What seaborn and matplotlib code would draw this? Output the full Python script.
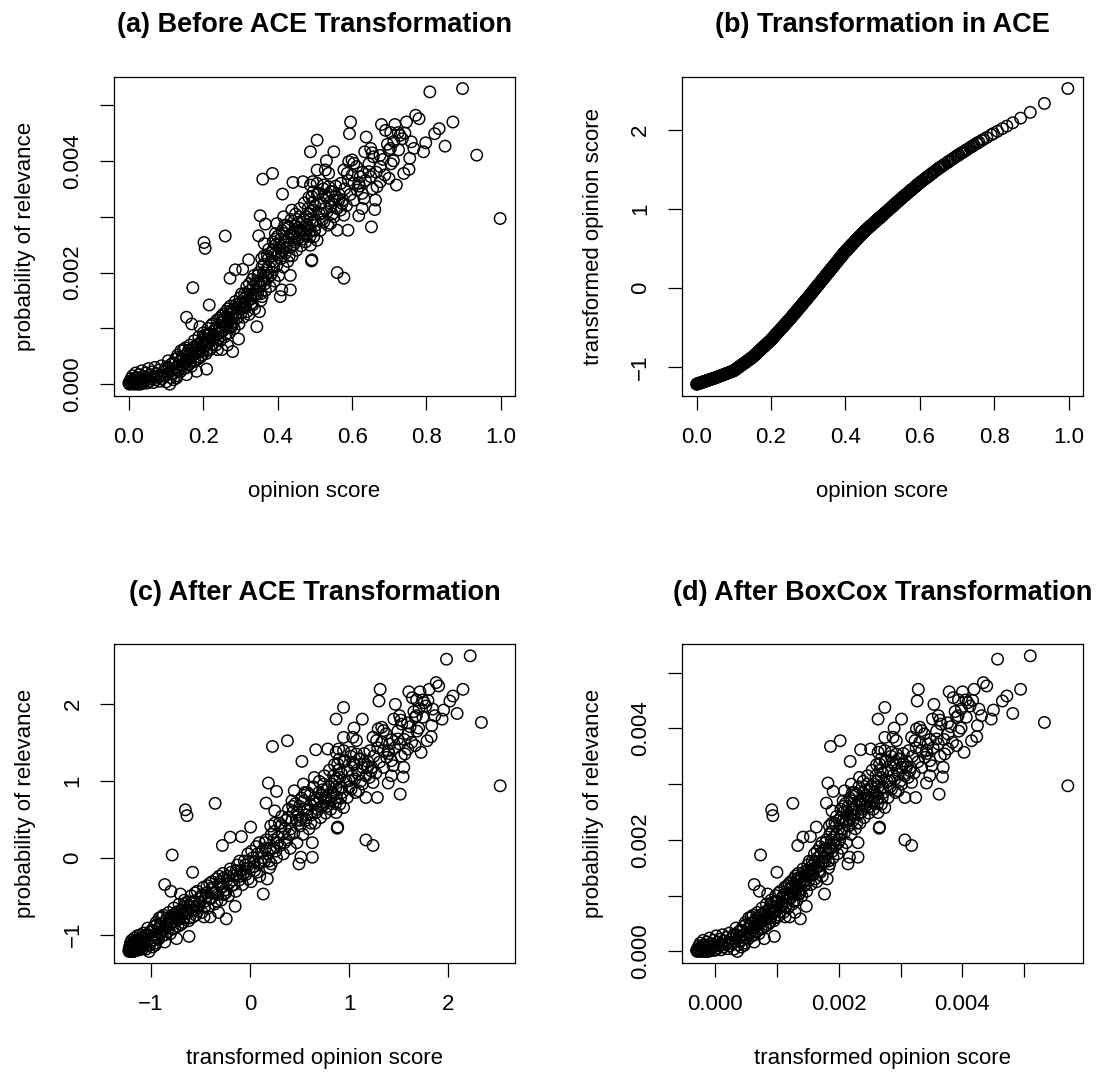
import matplotlib
matplotlib.use("Agg")
import matplotlib.pyplot as plt
import seaborn as sns
import pandas as pd

# ---------------- data ----------------
opinion_score = [
    0.000,0.003,0.006,0.008,0.010,0.012,0.015,0.018,0.020,0.022,0.025,0.028,0.030,0.032,0.035,0.038,0.040,0.043,0.046,0.048,
    0.050,0.053,0.056,0.058,0.060,0.063,0.066,0.068,0.070,0.073,0.076,0.078,0.080,0.083,0.086,0.088,0.090,0.093,0.096,0.098,
    0.100,0.104,0.107,0.110,0.112,0.115,0.118,0.120,0.002,0.005,0.009,0.014,0.017,0.024,0.027,0.036,0.044,0.052,
    0.122,0.125,0.128,0.131,0.134,0.137,0.140,0.143,0.146,0.149,0.152,0.155,0.158,0.161,0.164,0.167,0.170,0.173,0.176,0.179,
    0.182,0.185,0.188,0.191,0.194,0.197,0.200,0.203,0.206,0.209,0.210,0.213,0.216,0.219,0.222,0.225,0.228,0.231,0.234,0.237,
    0.240,0.243,0.246,0.249,0.252,0.255,0.258,0.261,0.264,0.267,0.270,0.273,0.276,0.279,0.280,0.283,0.286,0.289,0.292,0.295,
    0.296,0.299,0.302,0.305,0.155,0.169,0.172,0.191,0.216,0.202,0.205,0.259,0.272,0.286,0.306,
    0.308,0.311,0.314,0.317,0.320,0.323,0.326,0.329,0.332,0.335,0.338,0.341,0.344,0.346,0.349,0.351,0.352,0.355,0.358,0.358,
    0.361,0.364,0.367,0.370,0.373,0.376,0.379,0.382,0.385,0.388,0.391,0.394,0.397,0.400,0.403,0.406,0.409,0.412,0.415,0.418,
    0.421,0.424,0.427,0.430,0.433,0.436,0.439,0.442,0.445,0.448,0.451,0.454,0.457,0.460,0.463,0.466,0.469,0.472,0.475,0.478,
    0.481,0.484,0.487,0.490,0.493,0.496,
    0.407,0.411,0.434,0.434,0.491,0.322,0.349,0.364,0.394,0.398,0.416,0.438,0.461,0.353,0.367,0.360,0.386,0.413,0.441,0.468,
    0.494,0.488,0.506,0.506,
    0.500,0.503,0.507,0.512,0.516,0.520,0.523,0.527,0.531,0.535,0.539,0.543,0.547,0.552,0.556,0.560,0.565,0.570,0.575,0.580,
    0.585,0.590,0.595,0.600,0.605,0.612,0.620,0.628,0.636,0.645,0.655,0.665,0.675,0.688,0.695,0.705,0.712,0.725,0.742,0.755,
    0.897,0.809,0.596,0.593,0.771,0.780,0.746,0.679,0.690,0.704,0.715,0.729,0.735,0.724,0.638,0.759,0.766,0.792,0.798,0.822,
    0.834,0.871,0.850,0.935,0.998,0.634,0.650,0.657,0.654,0.699,0.703,0.711,0.676,0.683,0.551,0.531,0.591,0.600,0.605,0.578,
    0.587,0.528,0.537,0.739,0.753,0.719,0.699,0.676,0.667,0.645,0.650,0.622,0.618,0.605,0.614,0.627,0.632,0.663,0.661,0.652,
    0.627,0.618,0.560,0.589,0.560,0.578,0.492,0.578,0.569,0.506,0.515,0.551,0.488,0.506,0.524,0.492,0.510,0.528,0.537,0.546,
    0.555,0.564,0.573,0.542,0.497,0.519,0.533,0.501,0.524,0.542,0.488,0.497,0.488,
    0.101,0.106,0.113,0.117,0.124,0.129,0.133,0.138,0.142,0.147,0.151,0.156,0.160,0.165,0.168,0.174,0.178,0.183,0.187,0.192,
    0.196,0.199,0.204,0.208,0.212,0.217,0.221,0.226,0.230,0.235,0.239,0.244,0.248,0.253,0.257,0.262,0.266,0.271,0.275,0.278,
    0.284,0.288,0.293,0.298,0.303,0.309,0.313,0.318,0.324,0.328,0.333,0.337,0.343,0.348,0.354,0.357,0.362,0.366,0.372,0.377,
    0.381,0.387,0.392,0.396,0.402,0.408,0.413,0.419,0.425,0.431,0.437,0.443,0.447,0.453,0.458,0.464,0.470,0.476,0.482,0.488,
    0.494,0.499,0.128,0.155,0.182,0.250,0.265,
    0.145,0.159,0.171,0.181,0.189,0.198,0.207,0.214,0.223,0.232,0.238,0.245,0.254,0.260,0.268,0.274,0.282,0.291,0.297,0.304,
    0.312,0.319,0.327,0.334,0.340,0.347,0.356,0.363,0.369,0.375,0.383,0.389,0.395,0.404,0.410,0.417,0.423,0.429,0.440,0.449,
    0.456,0.467,0.479,0.485,
]

prob_relevance = [
    0.02e-3,0.05e-3,0.10e-3,0.01e-3,0.15e-3,0.04e-3,0.08e-3,0.20e-3,0.02e-3,0.12e-3,0.06e-3,0.17e-3,0.00e-3,0.10e-3,0.24e-3,0.04e-3,0.14e-3,0.08e-3,0.20e-3,0.02e-3,
    0.12e-3,0.28e-3,0.06e-3,0.17e-3,0.10e-3,0.22e-3,0.03e-3,0.14e-3,0.30e-3,0.08e-3,0.19e-3,0.12e-3,0.25e-3,0.05e-3,0.16e-3,0.33e-3,0.10e-3,0.22e-3,0.14e-3,0.28e-3,
    0.04e-3,0.18e-3,0.30e-3,0.00e-3,0.12e-3,0.24e-3,0.38e-3,0.08e-3,0.00e-3,0.03e-3,0.06e-3,0.00e-3,0.11e-3,0.00e-3,0.09e-3,0.01e-3,0.11e-3,0.03e-3,
    0.20e-3,0.45e-3,0.30e-3,0.52e-3,0.25e-3,0.40e-3,0.60e-3,0.33e-3,0.50e-3,0.28e-3,0.65e-3,0.42e-3,0.55e-3,0.35e-3,0.70e-3,0.48e-3,0.62e-3,0.40e-3,0.78e-3,0.55e-3,
    0.70e-3,0.45e-3,0.85e-3,0.62e-3,0.75e-3,0.52e-3,0.92e-3,0.68e-3,0.82e-3,0.27e-3,0.60e-3,1.00e-3,0.75e-3,0.90e-3,0.65e-3,1.08e-3,0.82e-3,0.98e-3,0.70e-3,1.15e-3,
    0.90e-3,1.05e-3,0.78e-3,1.22e-3,0.95e-3,1.12e-3,0.85e-3,1.30e-3,1.02e-3,1.20e-3,0.92e-3,1.40e-3,1.10e-3,0.585e-3,1.28e-3,1.00e-3,1.48e-3,1.18e-3,1.36e-3,0.81e-3,
    1.08e-3,1.55e-3,1.28e-3,1.45e-3,1.20e-3,1.08e-3,1.73e-3,1.03e-3,1.42e-3,2.54e-3,2.435e-3,2.656e-3,1.90e-3,2.05e-3,2.06e-3,
    1.20e-3,1.62e-3,1.38e-3,1.75e-3,1.50e-3,1.25e-3,1.68e-3,1.45e-3,1.88e-3,1.58e-3,1.35e-3,1.80e-3,1.03e-3,1.62e-3,2.00e-3,1.30e-3,1.75e-3,1.50e-3,2.10e-3,1.57e-3,
    1.85e-3,2.30e-3,1.68e-3,2.05e-3,1.90e-3,2.42e-3,1.75e-3,2.20e-3,2.00e-3,2.55e-3,1.85e-3,2.35e-3,2.12e-3,2.65e-3,1.95e-3,2.45e-3,2.25e-3,2.75e-3,2.10e-3,2.55e-3,
    2.35e-3,2.85e-3,2.20e-3,2.62e-3,2.45e-3,2.95e-3,2.30e-3,2.72e-3,2.55e-3,3.05e-3,2.40e-3,2.80e-3,2.62e-3,3.15e-3,2.48e-3,2.90e-3,2.70e-3,3.25e-3,2.55e-3,3.00e-3,
    2.80e-3,3.35e-3,2.65e-3,3.10e-3,2.90e-3,3.45e-3,
    1.57e-3,1.69e-3,1.95e-3,1.69e-3,2.21e-3,2.23e-3,2.66e-3,2.52e-3,2.70e-3,2.88e-3,3.00e-3,3.12e-3,2.76e-3,3.02e-3,2.87e-3,3.676e-3,3.778e-3,3.408e-3,3.617e-3,3.63e-3,
    3.63e-3,4.166e-3,4.375e-3,3.838e-3,
    3.20e-3,2.85e-3,3.40e-3,3.05e-3,3.25e-3,2.95e-3,3.50e-3,3.15e-3,3.35e-3,2.85e-3,3.25e-3,3.45e-3,3.05e-3,3.30e-3,3.55e-3,3.15e-3,3.40e-3,3.60e-3,3.30e-3,3.50e-3,
    3.20e-3,3.65e-3,3.40e-3,3.75e-3,3.30e-3,3.90e-3,3.55e-3,3.80e-3,3.65e-3,3.95e-3,3.50e-3,3.80e-3,4.10e-3,3.75e-3,4.30e-3,3.95e-3,4.35e-3,4.20e-3,4.50e-3,4.05e-3,
    5.30e-3,5.24e-3,4.70e-3,4.49e-3,4.82e-3,4.76e-3,4.70e-3,4.655e-3,4.55e-3,4.51e-3,4.655e-3,4.46e-3,4.40e-3,4.51e-3,4.43e-3,4.345e-3,4.226e-3,4.166e-3,4.327e-3,4.49e-3,
    4.58e-3,4.70e-3,4.267e-3,4.106e-3,2.97e-3,4.166e-3,4.226e-3,4.076e-3,4.148e-3,4.196e-3,4.226e-3,4.005e-3,3.897e-3,4.029e-3,4.166e-3,4.005e-3,3.99e-3,4.02e-3,3.96e-3,3.84e-3,
    3.78e-3,3.84e-3,3.78e-3,3.778e-3,3.85e-3,3.57e-3,3.69e-3,3.63e-3,3.54e-3,3.81e-3,3.72e-3,3.72e-3,3.60e-3,3.60e-3,3.48e-3,3.42e-3,3.33e-3,3.30e-3,3.13e-3,2.82e-3,
    3.15e-3,3.02e-3,2.76e-3,2.76e-3,2.00e-3,1.90e-3,2.23e-3,3.03e-3,3.12e-3,2.58e-3,2.76e-3,3.00e-3,3.57e-3,3.60e-3,3.57e-3,3.36e-3,3.42e-3,3.39e-3,3.54e-3,3.45e-3,
    3.36e-3,3.30e-3,3.24e-3,3.18e-3,3.12e-3,3.06e-3,3.09e-3,2.94e-3,2.91e-3,2.88e-3,2.76e-3,2.64e-3,2.49e-3,
    0.30e-3,0.42e-3,0.35e-3,0.20e-3,0.38e-3,0.15e-3,0.48e-3,0.22e-3,0.45e-3,0.62e-3,0.38e-3,0.30e-3,0.60e-3,0.56e-3,0.32e-3,0.66e-3,0.42e-3,0.58e-3,0.72e-3,0.48e-3,
    0.68e-3,0.60e-3,0.88e-3,0.55e-3,0.80e-3,0.62e-3,1.05e-3,0.72e-3,0.88e-3,1.02e-3,0.80e-3,1.18e-3,0.95e-3,1.25e-3,1.05e-3,0.90e-3,1.35e-3,1.15e-3,1.32e-3,1.05e-3,
    1.22e-3,1.42e-3,1.20e-3,1.38e-3,1.62e-3,1.38e-3,1.55e-3,1.30e-3,1.80e-3,1.60e-3,1.42e-3,1.95e-3,1.68e-3,1.85e-3,1.62e-3,2.25e-3,2.00e-3,1.80e-3,2.30e-3,2.10e-3,
    1.95e-3,2.40e-3,2.20e-3,2.50e-3,2.35e-3,2.60e-3,2.40e-3,2.85e-3,2.55e-3,2.30e-3,2.70e-3,2.50e-3,2.85e-3,2.60e-3,3.00e-3,2.75e-3,2.95e-3,2.70e-3,3.15e-3,2.95e-3,
    3.25e-3,2.75e-3,0.11e-3,0.17e-3,0.23e-3,0.62e-3,0.70e-3,
    0.35e-3,0.45e-3,0.52e-3,0.62e-3,0.58e-3,0.80e-3,0.70e-3,0.88e-3,0.80e-3,0.95e-3,0.62e-3,1.00e-3,1.15e-3,1.05e-3,1.25e-3,1.02e-3,1.35e-3,1.28e-3,1.45e-3,1.35e-3,
    1.48e-3,1.62e-3,1.52e-3,1.75e-3,1.60e-3,1.95e-3,1.85e-3,2.15e-3,1.95e-3,2.25e-3,2.35e-3,2.10e-3,2.60e-3,2.50e-3,2.35e-3,2.70e-3,2.45e-3,2.80e-3,2.65e-3,2.75e-3,
    2.90e-3,2.60e-3,2.85e-3,3.05e-3,
]

ace_opinion = [
    -1.220,-1.215,-1.210,-1.207,-1.204,-1.201,-1.196,-1.191,-1.188,-1.185,-1.180,-1.175,-1.172,-1.169,-1.164,-1.159,-1.156,-1.151,-1.146,-1.143,
    -1.140,-1.135,-1.129,-1.126,-1.122,-1.117,-1.111,-1.108,-1.104,-1.099,-1.093,-1.090,-1.086,-1.081,-1.075,-1.072,-1.068,-1.063,-1.057,-1.054,
    -1.050,-1.036,-1.026,-1.016,-1.009,-0.999,-0.989,-0.982,-1.217,-1.212,-1.206,-1.198,-1.193,-1.182,-1.177,-1.162,-1.150,-1.136,
    -0.975,-0.965,-0.955,-0.945,-0.934,-0.924,-0.914,-0.904,-0.894,-0.883,-0.871,-0.858,-0.845,-0.832,-0.818,-0.805,-0.792,-0.779,-0.766,-0.752,
    -0.739,-0.726,-0.713,-0.700,-0.686,-0.673,-0.660,-0.644,-0.629,-0.613,-0.608,-0.592,-0.577,-0.561,-0.546,-0.530,-0.514,-0.499,-0.483,-0.468,
    -0.452,-0.436,-0.421,-0.405,-0.389,-0.372,-0.355,-0.338,-0.322,-0.305,-0.288,-0.271,-0.254,-0.238,-0.232,-0.215,-0.198,-0.182,-0.165,-0.148,
    -0.142,-0.126,-0.108,-0.091,-0.858,-0.796,-0.783,-0.700,-0.577,-0.650,-0.634,-0.350,-0.277,-0.198,-0.085,
    -0.074,-0.056,-0.039,-0.021,-0.004,0.013,0.031,0.048,0.066,0.083,0.100,0.118,0.135,0.147,0.164,0.176,0.182,0.199,0.216,0.216,
    0.234,0.251,0.269,0.286,0.303,0.321,0.338,0.356,0.373,0.390,0.408,0.425,0.443,0.460,0.475,0.490,0.505,0.520,0.535,0.550,
    0.565,0.580,0.595,0.610,0.625,0.640,0.655,0.670,0.685,0.700,0.714,0.727,0.739,0.752,0.765,0.777,0.790,0.802,0.815,0.828,
    0.840,0.853,0.865,0.878,0.891,0.903,
    0.495,0.515,0.630,0.630,0.882,0.008,0.164,0.251,0.425,0.448,0.540,0.650,0.756,0.187,0.269,0.228,0.379,0.525,0.665,0.786,
    0.895,0.870,0.945,0.945,
    0.920,0.933,0.949,0.970,0.987,1.004,1.017,1.033,1.050,1.067,1.084,1.101,1.117,1.138,1.154,1.170,1.190,1.210,1.230,1.250,
    1.270,1.290,1.310,1.330,1.348,1.373,1.402,1.431,1.460,1.492,1.526,1.558,1.590,1.632,1.654,1.685,1.706,1.745,1.796,1.834,
    2.222,1.983,1.314,1.302,1.879,1.904,1.808,1.603,1.638,1.682,1.715,1.757,1.775,1.742,1.467,1.845,1.865,1.938,1.954,2.017,
    2.048,2.149,2.090,2.335,2.524,1.452,1.510,1.532,1.523,1.667,1.679,1.703,1.593,1.616,1.134,1.050,1.294,1.330,1.348,1.242,
    1.278,1.038,1.075,1.787,1.828,1.727,1.667,1.593,1.564,1.492,1.510,1.409,1.395,1.348,1.380,1.427,1.445,1.552,1.545,1.516,
    1.427,1.395,1.170,1.286,1.170,1.242,0.886,1.242,1.206,0.945,0.983,1.134,0.870,0.945,1.021,0.886,0.962,1.038,1.075,1.113,
    1.150,1.186,1.222,1.096,0.907,1.000,1.059,0.924,1.021,1.096,0.870,0.907,0.870,
    -1.047,-1.030,-1.006,-0.992,-0.968,-0.951,-0.938,-0.921,-0.907,-0.890,-0.876,-0.854,-0.836,-0.814,-0.801,-0.774,-0.757,-0.735,-0.717,-0.695,
    -0.678,-0.664,-0.639,-0.618,-0.598,-0.572,-0.551,-0.525,-0.504,-0.478,-0.457,-0.431,-0.410,-0.383,-0.361,-0.333,-0.310,-0.282,-0.260,-0.243,
    -0.210,-0.187,-0.159,-0.131,-0.103,-0.068,-0.045,-0.016,0.019,0.042,0.071,0.095,0.129,0.158,0.193,0.211,0.240,0.263,0.298,0.327,
    0.350,0.385,0.414,0.437,0.470,0.500,0.525,0.555,0.585,0.615,0.645,0.675,0.695,0.723,0.744,0.769,0.794,0.819,0.844,0.870,
    0.895,0.916,-0.955,-0.858,-0.739,-0.400,-0.316,
    -0.897,-0.840,-0.788,-0.744,-0.708,-0.669,-0.624,-0.587,-0.540,-0.494,-0.462,-0.426,-0.378,-0.344,-0.299,-0.266,-0.221,-0.170,-0.137,-0.097,
    -0.050,-0.010,0.037,0.077,0.112,0.153,0.205,0.245,0.280,0.315,0.361,0.396,0.431,0.480,0.510,0.545,0.575,0.605,0.660,0.705,
    0.735,0.781,0.832,0.857,
]

ace_prob = [
    -1.206,-1.184,-1.148,-1.213,-1.111,-1.191,-1.162,-1.075,-1.206,-1.133,-1.177,-1.097,-1.220,-1.148,-1.046,-1.191,-1.119,-1.162,-1.075,-1.206,
    -1.133,-1.017,-1.177,-1.097,-1.148,-1.061,-1.198,-1.119,-1.003,-1.162,-1.082,-1.133,-1.039,-1.184,-1.104,-0.981,-1.148,-1.061,-1.119,-1.017,
    -1.191,-1.090,-1.003,-1.220,-1.133,-1.046,-0.945,-1.162,-1.220,-1.198,-1.177,-1.220,-1.140,-1.220,-1.155,-1.213,-1.140,-1.198,
    -1.075,-0.894,-1.003,-0.843,-1.039,-0.930,-0.785,-0.981,-0.858,-1.017,-0.749,-0.916,-0.822,-0.966,-0.713,-0.872,-0.771,-0.930,-0.655,-0.822,
    -0.713,-0.894,-0.604,-0.771,-0.677,-0.843,-0.553,-0.727,-0.626,-1.024,-0.785,-0.496,-0.677,-0.568,-0.749,-0.438,-0.626,-0.510,-0.713,-0.387,
    -0.568,-0.459,-0.655,-0.336,-0.532,-0.409,-0.604,-0.278,-0.481,-0.351,-0.553,-0.206,-0.423,-0.796,-0.293,-0.496,-0.148,-0.365,-0.235,-0.633,
    -0.438,-0.097,-0.293,-0.169,-0.351,-0.438,0.033,-0.474,-0.191,0.620,0.544,0.704,0.157,0.265,0.272,
    -0.351,-0.046,-0.220,0.048,-0.133,-0.314,-0.003,-0.169,0.142,-0.075,-0.242,0.084,-0.474,-0.046,0.229,-0.278,0.048,-0.133,0.301,-0.083,
    0.120,0.446,-0.003,0.265,0.157,0.533,0.048,0.374,0.229,0.627,0.120,0.483,0.316,0.700,0.193,0.555,0.410,0.772,0.301,0.627,
    0.483,0.845,0.374,0.678,0.555,0.917,0.446,0.751,0.627,0.990,0.519,0.809,0.678,1.062,0.577,0.881,0.736,1.135,0.627,0.954,
    0.809,1.207,0.700,1.026,0.881,1.280,
    -0.083,0.004,0.193,0.004,0.381,0.396,0.707,0.606,0.736,0.867,0.954,1.040,0.780,0.968,0.859,1.443,1.517,1.249,1.400,1.410,
    1.410,1.798,1.950,1.561,
    1.098,0.845,1.243,0.990,1.135,0.917,1.316,1.062,1.207,0.845,1.135,1.280,0.990,1.171,1.352,1.062,1.243,1.388,1.171,1.316,
    1.098,1.424,1.243,1.497,1.171,1.606,1.352,1.533,1.424,1.642,1.316,1.533,1.750,1.497,1.895,1.642,1.932,1.823,2.040,1.714,
    2.620,2.576,2.185,2.033,2.272,2.229,2.185,2.153,2.076,2.047,2.153,2.011,1.968,2.047,1.990,1.928,1.842,1.798,1.915,2.033,
    2.098,2.185,1.871,1.755,0.932,1.798,1.842,1.733,1.785,1.820,1.842,1.682,1.603,1.699,1.798,1.682,1.671,1.692,1.649,1.562,
    1.519,1.562,1.519,1.517,1.569,1.366,1.453,1.410,1.345,1.540,1.475,1.475,1.388,1.388,1.301,1.258,1.193,1.171,1.048,0.823,
    1.062,0.968,0.780,0.780,0.229,0.157,0.396,0.975,1.040,0.649,0.780,0.954,1.366,1.388,1.366,1.214,1.258,1.236,1.345,1.280,
    1.214,1.171,1.127,1.084,1.040,0.997,1.019,0.910,0.888,0.867,0.780,0.693,0.584,
    -1.003,-0.916,-0.966,-1.075,-0.945,-1.111,-0.872,-1.061,-0.894,-0.771,-0.945,-1.003,-0.785,-0.814,-0.988,-0.742,-0.916,-0.800,-0.698,-0.872,
    -0.727,-0.785,-0.582,-0.822,-0.640,-0.771,-0.459,-0.698,-0.582,-0.481,-0.640,-0.365,-0.532,-0.314,-0.459,-0.568,-0.242,-0.387,-0.264,-0.459,
    -0.336,-0.191,-0.351,-0.220,-0.046,-0.220,-0.097,-0.278,0.084,-0.061,-0.191,0.193,-0.003,0.120,-0.046,0.410,0.229,0.084,0.446,0.301,
    0.193,0.519,0.374,0.591,0.483,0.664,0.519,0.845,0.627,0.446,0.736,0.591,0.845,0.664,0.954,0.772,0.917,0.736,1.062,0.917,
    1.135,0.772,-1.140,-1.097,-1.053,-0.771,-0.713,
    -0.966,-0.894,-0.843,-0.771,-0.800,-0.640,-0.713,-0.582,-0.640,-0.532,-0.771,-0.496,-0.387,-0.459,-0.314,-0.481,-0.242,-0.293,-0.169,-0.242,
    -0.148,-0.046,-0.119,0.048,-0.061,0.193,0.120,0.338,0.193,0.410,0.483,0.301,0.664,0.591,0.483,0.736,0.555,0.809,0.700,0.772,
    0.881,0.664,0.845,0.990,
]

boxcox_opinion = [
    -0.297e-3,-0.279e-3,-0.261e-3,-0.249e-3,-0.237e-3,-0.225e-3,-0.207e-3,-0.189e-3,-0.177e-3,-0.165e-3,-0.147e-3,-0.129e-3,-0.117e-3,-0.105e-3,-0.087e-3,-0.068e-3,-0.056e-3,-0.038e-3,-0.020e-3,-0.008e-3,
    0.004e-3,0.022e-3,0.040e-3,0.052e-3,0.064e-3,0.082e-3,0.100e-3,0.112e-3,0.124e-3,0.142e-3,0.160e-3,0.172e-3,0.184e-3,0.202e-3,0.220e-3,0.232e-3,0.244e-3,0.262e-3,0.280e-3,0.292e-3,
    0.304e-3,0.328e-3,0.346e-3,0.364e-3,0.376e-3,0.394e-3,0.413e-3,0.425e-3,-0.285e-3,-0.267e-3,-0.243e-3,-0.213e-3,-0.195e-3,-0.153e-3,-0.135e-3,-0.081e-3,-0.032e-3,0.016e-3,
    0.437e-3,0.455e-3,0.473e-3,0.491e-3,0.509e-3,0.527e-3,0.545e-3,0.563e-3,0.581e-3,0.599e-3,0.617e-3,0.635e-3,0.653e-3,0.671e-3,0.689e-3,0.707e-3,0.725e-3,0.743e-3,0.761e-3,0.779e-3,
    0.797e-3,0.815e-3,0.833e-3,0.851e-3,0.869e-3,0.887e-3,0.906e-3,0.924e-3,0.942e-3,0.960e-3,0.966e-3,0.984e-3,1.002e-3,1.020e-3,1.038e-3,1.056e-3,1.074e-3,1.092e-3,1.110e-3,1.128e-3,
    1.146e-3,1.164e-3,1.182e-3,1.200e-3,1.218e-3,1.236e-3,1.254e-3,1.272e-3,1.290e-3,1.309e-3,1.327e-3,1.345e-3,1.363e-3,1.381e-3,1.387e-3,1.405e-3,1.423e-3,1.441e-3,1.459e-3,1.477e-3,
    1.483e-3,1.501e-3,1.519e-3,1.537e-3,0.635e-3,0.719e-3,0.737e-3,0.851e-3,1.002e-3,0.918e-3,0.936e-3,1.260e-3,1.339e-3,1.423e-3,1.543e-3,
    1.555e-3,1.573e-3,1.591e-3,1.609e-3,1.627e-3,1.645e-3,1.663e-3,1.681e-3,1.699e-3,1.717e-3,1.735e-3,1.753e-3,1.771e-3,1.783e-3,1.801e-3,1.814e-3,1.820e-3,1.838e-3,1.856e-3,1.856e-3,
    1.874e-3,1.892e-3,1.910e-3,1.928e-3,1.946e-3,1.964e-3,1.982e-3,2.000e-3,2.018e-3,2.036e-3,2.054e-3,2.072e-3,2.090e-3,2.108e-3,2.126e-3,2.144e-3,2.162e-3,2.180e-3,2.198e-3,2.216e-3,
    2.234e-3,2.253e-3,2.271e-3,2.289e-3,2.307e-3,2.325e-3,2.343e-3,2.361e-3,2.379e-3,2.397e-3,2.415e-3,2.433e-3,2.451e-3,2.469e-3,2.487e-3,2.505e-3,2.523e-3,2.541e-3,2.559e-3,2.577e-3,
    2.595e-3,2.613e-3,2.631e-3,2.649e-3,2.667e-3,2.685e-3,
    2.150e-3,2.174e-3,2.313e-3,2.313e-3,2.655e-3,1.639e-3,1.801e-3,1.892e-3,2.072e-3,2.096e-3,2.204e-3,2.337e-3,2.475e-3,1.826e-3,1.910e-3,1.868e-3,2.024e-3,2.186e-3,2.355e-3,2.517e-3,
    2.673e-3,2.637e-3,2.746e-3,2.746e-3,
    2.710e-3,2.728e-3,2.752e-3,2.782e-3,2.806e-3,2.830e-3,2.848e-3,2.872e-3,2.896e-3,2.920e-3,2.944e-3,2.968e-3,2.992e-3,3.022e-3,3.046e-3,3.070e-3,3.100e-3,3.130e-3,3.160e-3,3.191e-3,
    3.221e-3,3.251e-3,3.281e-3,3.311e-3,3.341e-3,3.383e-3,3.431e-3,3.479e-3,3.527e-3,3.581e-3,3.641e-3,3.702e-3,3.762e-3,3.840e-3,3.882e-3,3.942e-3,3.984e-3,4.062e-3,4.165e-3,4.243e-3,
    5.097e-3,4.568e-3,3.287e-3,3.269e-3,4.339e-3,4.393e-3,4.189e-3,3.786e-3,3.852e-3,3.936e-3,4.002e-3,4.086e-3,4.123e-3,4.056e-3,3.539e-3,4.267e-3,4.309e-3,4.465e-3,4.501e-3,4.646e-3,
    4.718e-3,4.940e-3,4.814e-3,5.325e-3,5.704e-3,3.515e-3,3.611e-3,3.654e-3,3.636e-3,3.906e-3,3.930e-3,3.978e-3,3.768e-3,3.810e-3,3.016e-3,2.896e-3,3.257e-3,3.311e-3,3.341e-3,3.179e-3,
    3.233e-3,2.878e-3,2.932e-3,4.147e-3,4.231e-3,4.026e-3,3.906e-3,3.768e-3,3.714e-3,3.581e-3,3.611e-3,3.443e-3,3.419e-3,3.341e-3,3.395e-3,3.473e-3,3.503e-3,3.690e-3,3.678e-3,3.623e-3,
    3.473e-3,3.419e-3,3.070e-3,3.245e-3,3.070e-3,3.179e-3,2.661e-3,3.179e-3,3.124e-3,2.746e-3,2.800e-3,3.016e-3,2.637e-3,2.746e-3,2.854e-3,2.661e-3,2.770e-3,2.878e-3,2.932e-3,2.986e-3,
    3.040e-3,3.094e-3,3.148e-3,2.962e-3,2.691e-3,2.824e-3,2.908e-3,2.716e-3,2.854e-3,2.962e-3,2.637e-3,2.691e-3,2.637e-3,
    0.310e-3,0.340e-3,0.382e-3,0.407e-3,0.449e-3,0.479e-3,0.503e-3,0.533e-3,0.557e-3,0.587e-3,0.611e-3,0.641e-3,0.665e-3,0.695e-3,0.713e-3,0.749e-3,0.773e-3,0.803e-3,0.827e-3,0.858e-3,
    0.882e-3,0.900e-3,0.930e-3,0.954e-3,0.978e-3,1.008e-3,1.032e-3,1.062e-3,1.086e-3,1.116e-3,1.140e-3,1.170e-3,1.194e-3,1.224e-3,1.248e-3,1.278e-3,1.302e-3,1.333e-3,1.357e-3,1.375e-3,
    1.411e-3,1.435e-3,1.465e-3,1.495e-3,1.525e-3,1.561e-3,1.585e-3,1.615e-3,1.651e-3,1.675e-3,1.705e-3,1.729e-3,1.765e-3,1.795e-3,1.832e-3,1.850e-3,1.880e-3,1.904e-3,1.940e-3,1.970e-3,
    1.994e-3,2.030e-3,2.060e-3,2.084e-3,2.120e-3,2.156e-3,2.186e-3,2.222e-3,2.259e-3,2.295e-3,2.331e-3,2.367e-3,2.391e-3,2.427e-3,2.457e-3,2.493e-3,2.529e-3,2.565e-3,2.601e-3,2.637e-3,
    2.673e-3,2.703e-3,0.473e-3,0.635e-3,0.797e-3,1.206e-3,1.296e-3,
    0.575e-3,0.659e-3,0.731e-3,0.791e-3,0.839e-3,0.894e-3,0.948e-3,0.990e-3,1.044e-3,1.098e-3,1.134e-3,1.176e-3,1.230e-3,1.266e-3,1.314e-3,1.351e-3,1.399e-3,1.453e-3,1.489e-3,1.531e-3,
    1.579e-3,1.621e-3,1.669e-3,1.711e-3,1.747e-3,1.790e-3,1.844e-3,1.886e-3,1.922e-3,1.958e-3,2.006e-3,2.042e-3,2.078e-3,2.132e-3,2.168e-3,2.210e-3,2.246e-3,2.283e-3,2.349e-3,2.403e-3,
    2.445e-3,2.511e-3,2.583e-3,2.619e-3,
]

titles = ["(a) Before ACE Transformation", "(b) Transformation in ACE",
          "(c) After ACE Transformation", "(d) After BoxCox Transformation"]
x_labels = ["opinion score", "opinion score",
            "transformed opinion score", "transformed opinion score"]
y_labels = ["probability of relevance", "transformed opinion score",
            "probability of relevance", "probability of relevance"]

unit_ticks = [0.0, 0.2, 0.4, 0.6, 0.8, 1.0]
unit_tick_labels = ["0.0", "0.2", "0.4", "0.6", "0.8", "1.0"]
prob_ticks = [0.000, 0.001, 0.002, 0.003, 0.004, 0.005]
prob_tick_labels = ["0.000", "", "0.002", "", "0.004", ""]
ace_ticks = [-1, 0, 1, 2]
ace_tick_labels = ["\u22121", "0", "1", "2"]

# ---------------- figure ----------------
df = pd.DataFrame({
    "opinion_score": opinion_score,
    "prob_relevance": prob_relevance,
    "ace_opinion": ace_opinion,
    "ace_prob": ace_prob,
    "boxcox_opinion": boxcox_opinion,
})

sns.set_theme(style="ticks")
plt.rcParams["font.family"] = ["Liberation Sans", "DejaVu Sans"]

W, H = 1097, 1072
fig = plt.figure(figsize=(W / 100, H / 100), dpi=100)
fig.patch.set_facecolor("white")

box_w, box_h = 401 / W, 319.3 / H
lefts = [114 / W, 681.7 / W]
bottoms = [1 - 396 / H, 1 - 963.3 / H]
rects = [
    [lefts[0], bottoms[0], box_w, box_h],
    [lefts[1], bottoms[0], box_w, box_h],
    [lefts[0], bottoms[1], box_w, box_h],
    [lefts[1], bottoms[1], box_w, box_h],
]

panels = [
    ("opinion_score", "prob_relevance", unit_ticks, unit_tick_labels, prob_ticks, prob_tick_labels),
    ("opinion_score", "ace_opinion", unit_ticks, unit_tick_labels, ace_ticks, ace_tick_labels),
    ("ace_opinion", "ace_prob", ace_ticks, ace_tick_labels, ace_ticks, ace_tick_labels),
    ("boxcox_opinion", "prob_relevance", prob_ticks, prob_tick_labels, prob_ticks, prob_tick_labels),
]

for i, (xcol, ycol, xt, xtl, yt, ytl) in enumerate(panels):
    ax = fig.add_axes(rects[i])
    ax.set_facecolor("white")
    sns.scatterplot(data=df, x=xcol, y=ycol, ax=ax, s=68, marker="o",
                    facecolor="none", edgecolor="black", linewidth=1.05,
                    legend=False)
    ax.margins(0.04)
    ax.set_xticks(xt)
    ax.set_xticklabels(xtl)
    ax.set_yticks(yt)
    ax.set_yticklabels(ytl, rotation=90, va="center")
    for sp in ax.spines.values():
        sp.set_visible(True)
        sp.set_color("black")
        sp.set_linewidth(0.9)
    ax.tick_params(direction="out", length=10, width=0.9, color="black",
                   labelcolor="black", labelsize=16, pad=12)
    ax.grid(False)
    ax.set_title(titles[i], fontsize=19.5, fontweight="bold", pad=32, color="black")
    ax.set_xlabel(x_labels[i], fontsize=16, color="black")
    ax.xaxis.set_label_coords(0.5, -0.265)
    ax.set_ylabel(y_labels[i], fontsize=16, color="black")
    ax.yaxis.set_label_coords(-0.195, 0.5)

fig.savefig("out.png", dpi=100, facecolor="white")
